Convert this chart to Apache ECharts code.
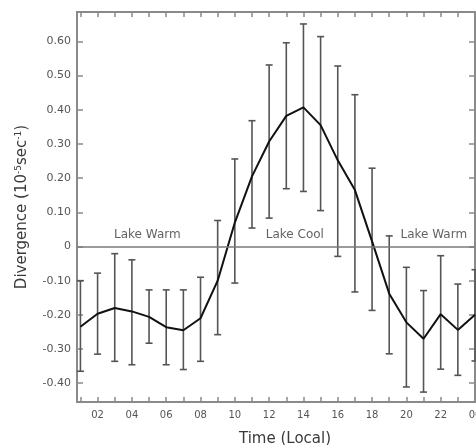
<!DOCTYPE html>
<html>
<head>
<meta charset="utf-8">
<script src="https://cdn.jsdelivr.net/npm/echarts@6/dist/echarts.min.js"></script>
<style>
  html, body { margin: 0; padding: 0; background: #ffffff; }
  #chart { width: 476px; height: 445px; }
</style>
</head>
<body>
<div id="chart"></div>
<script>
// Local hour of each observation
const hours = [1, 2, 3, 4, 5, 6, 7, 8, 9, 10, 11, 12, 13, 14, 15, 16, 17, 18, 19, 20, 21, 22, 23, 24];
// Mean divergence (10^-5 s^-1)
const meanDivergence = [-0.235, -0.197, -0.180, -0.190, -0.206, -0.236, -0.245, -0.210, -0.100, 0.070,
  0.205, 0.307, 0.382, 0.407, 0.355, 0.252, 0.165, 0.015, -0.138, -0.222, -0.270, -0.198, -0.244, -0.200];
// Upper and lower ends of the error bars
const upperBound = [-0.100, -0.078, -0.021, -0.039, -0.127, -0.127, -0.127, -0.090, 0.076, 0.256,
  0.368, 0.531, 0.596, 0.651, 0.614, 0.528, 0.444, 0.229, 0.031, -0.061, -0.129, -0.027, -0.110, -0.068];
const lowerBound = [-0.365, -0.315, -0.336, -0.346, -0.283, -0.346, -0.360, -0.336, -0.258, -0.107,
  0.054, 0.083, 0.169, 0.161, 0.105, -0.029, -0.133, -0.187, -0.314, -0.411, -0.426, -0.359, -0.377, -0.335];

// Axis ticks and labels
const hourTicks = [1, 2, 3, 4, 5, 6, 7, 8, 9, 10, 11, 12, 13, 14, 15, 16, 17, 18, 19, 20, 21, 22, 23, 24];
const hourLabels = [2, 4, 6, 8, 10, 12, 14, 16, 18, 20, 22, 24];
const divergenceTicks = [-0.4, -0.3, -0.2, -0.1, 0, 0.1, 0.2, 0.3, 0.4, 0.5, 0.6];

// Regime annotations along the zero line: [hour, divergence, text]
const regimeLabels = [[4.9, 0, 'Lake Warm'], [13.5, 0, 'Lake Cool'], [21.6, 0, 'Lake Warm']];

const chart = echarts.init(document.getElementById('chart'), null, { renderer: 'canvas' });

const frameColor = '#8a8a8a';
const textColor = '#3a3a3a';
const font = 'DejaVu Sans, Verdana, sans-serif';

function hourText(v) {
  const h = Math.round(v) % 24;
  return (h < 10 ? '0' : '') + h;
}
function divText(v) {
  if (Math.abs(v) < 1e-9) return '0';
  return v.toFixed(2);
}

const errorData = hours.map((h, i) => [h, lowerBound[i], upperBound[i]]);

const commonX = {
  type: 'value', min: 0.8, max: 24,
  axisLine: { show: false, onZero: false },
  splitLine: { show: false },
  axisTick: { show: true, inside: true, length: 5, customValues: hourTicks,
    lineStyle: { color: frameColor, width: 1.5 } }
};
const commonY = {
  type: 'value', min: -0.455, max: 0.686,
  axisLine: { show: false, onZero: false },
  splitLine: { show: false },
  axisTick: { show: true, inside: true, length: 6, customValues: divergenceTicks,
    lineStyle: { color: frameColor, width: 1.5 } }
};

chart.setOption({
  animation: false,
  backgroundColor: '#ffffff',
  grid: {
    left: 77, right: 1, top: 12, bottom: 43,
    outerBoundsMode: 'none', containLabel: false,
    show: true, borderColor: frameColor, borderWidth: 2, backgroundColor: 'transparent'
  },
  xAxis: [
    Object.assign({}, commonX, {
      position: 'bottom',
      name: 'Time (Local)', nameLocation: 'middle', nameGap: 30,
      nameTextStyle: { color: textColor, fontSize: 15, fontFamily: font, padding: [0, 0, 0, 18] },
      axisLabel: { show: true, customValues: hourLabels, formatter: hourText,
        color: '#555', fontSize: 10, fontFamily: font, margin: 8 }
    }),
    Object.assign({}, commonX, { position: 'top', axisLabel: { show: false } })
  ],
  yAxis: [
    Object.assign({}, commonY, {
      position: 'left',
      name: 'Divergence (10{sup|-5}sec{sup|-1})', nameLocation: 'middle', nameGap: 47,
      nameTextStyle: { color: textColor, fontSize: 15, fontFamily: font,
        rich: { sup: { fontSize: 9, fontFamily: font, color: textColor, verticalAlign: 'top', padding: [0, 0, 7, 0] } } },
      axisLabel: { show: true, customValues: divergenceTicks, formatter: divText,
        color: '#555', fontSize: 11, fontFamily: font, margin: 6 }
    }),
    Object.assign({}, commonY, { position: 'right', axisLabel: { show: false } })
  ],
  series: [
    {
      // zero reference line
      type: 'line', data: [], xAxisIndex: 0, yAxisIndex: 0,
      markLine: {
        silent: true, symbol: 'none', label: { show: false },
        lineStyle: { color: '#7a7a7a', width: 1.5, type: 'solid' },
        data: [{ yAxis: 0 }]
      }
    },
    {
      type: 'custom', xAxisIndex: 0, yAxisIndex: 0,
      data: errorData,
      renderItem: function (params, api) {
        const x = api.value(0);
        const lo = api.coord([x, api.value(1)]);
        const hi = api.coord([x, api.value(2)]);
        const cap = 3.5;
        const style = { stroke: '#555555', lineWidth: 1.6 };
        return {
          type: 'group',
          children: [
            { type: 'line', shape: { x1: lo[0], y1: lo[1], x2: hi[0], y2: hi[1] }, style: style },
            { type: 'line', shape: { x1: hi[0] - cap, y1: hi[1], x2: hi[0] + cap, y2: hi[1] }, style: style },
            { type: 'line', shape: { x1: lo[0] - cap, y1: lo[1], x2: lo[0] + cap, y2: lo[1] }, style: style }
          ]
        };
      },
      z: 3
    },
    {
      type: 'line', xAxisIndex: 0, yAxisIndex: 0,
      data: hours.map((h, i) => [h, meanDivergence[i]]),
      symbol: 'none', smooth: false,
      lineStyle: { color: '#111', width: 2 },
      z: 4
    },
    {
      type: 'scatter', xAxisIndex: 0, yAxisIndex: 0,
      data: regimeLabels,
      symbolSize: 0, silent: true,
      label: {
        show: true, position: 'top', distance: 6,
        formatter: p => p.value[2],
        color: textColor, fontSize: 12, fontFamily: font
      },
      z: 5
    }
  ]
});
</script>
</body>
</html>
